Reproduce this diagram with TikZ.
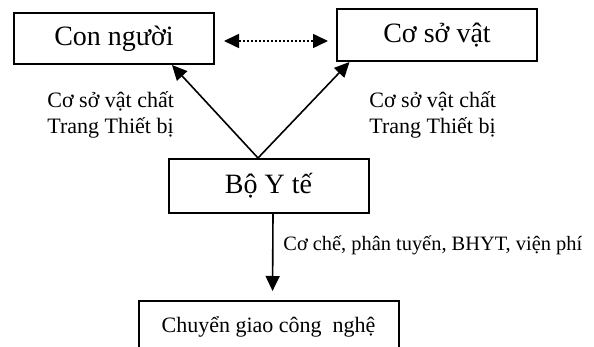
\documentclass[tikz,border=0pt]{standalone}
\usepackage{fontspec}
\setmainfont{Liberation Serif}
\usetikzlibrary{arrows.meta,positioning}

\begin{document}
\begin{tikzpicture}[x=0.5pt,y=-0.5pt,>={Triangle[length=7.5pt,width=7pt]}]
  \tikzstyle{box}=[draw,line width=1pt,minimum width=100pt,minimum height=26pt,align=center,font=\fontsize{14}{16}\selectfont]
  \tikzstyle{lbl}=[align=left,anchor=west,inner sep=0pt,font=\fontsize{11}{13}\selectfont]
  \useasboundingbox (0,0) rectangle (594,347);
  \node[box,minimum height=25.5pt] (nguoi) at (114,38.5) {Con người};
  \node[box,right=60.5pt of nguoi,yshift=1.75pt] (csvat) {Cơ sở vật};
  \node[box,minimum height=27pt] (boyte) at (268.5,186) {Bộ Y tế};
  \node[box,minimum width=130pt,font=\fontsize{11}{13}\selectfont,below=43pt of boyte] (cgcn) {Chuyển giao công\ \ nghệ};
  \draw[line width=0.8pt,dash pattern=on 1pt off 1pt,<->,shorten <=4.5pt,shorten >=4pt] ([yshift=-1.25pt]nguoi.east) -- ([yshift=-3pt]csvat.west);
  \draw[line width=0.8pt,->] ([xshift=-5.25pt]boyte.north) -- ([xshift=29pt]nguoi.south);
  \draw[line width=0.8pt,->] ([xshift=-5.25pt]boyte.north) -- ([xshift=-43.75pt]csvat.south);
  \draw[line width=0.8pt,->,shorten >=4.5pt] ([xshift=2.25pt]boyte.south) -- ([xshift=2pt]cgcn.north);
  \node[lbl] (lbltrai) at (47,115) {Cơ sở vật chất\\Trang Thiết bị};
  \node[lbl] (lblphai) at (369,115) {Cơ sở vật chất\\Trang Thiết bị};
  \node[lbl,font=\fontsize{10.2}{13}\selectfont] (lblduoi) at (283,245) {Cơ chế, phân tuyến, BHYT, viện phí};
\end{tikzpicture}
\end{document}
